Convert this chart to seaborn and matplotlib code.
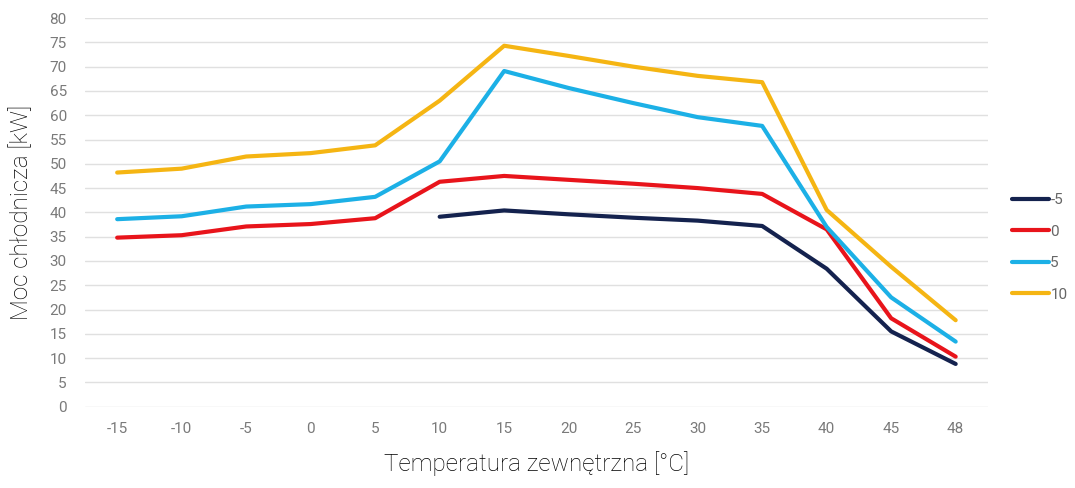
import numpy as np
import pandas as pd
import matplotlib
matplotlib.use("Agg")
import matplotlib.pyplot as plt
import seaborn as sns

# outside temperature categories (x axis, evenly spaced)
temps = ["-15", "-10", "-5", "0", "5", "10", "15", "20", "25", "30", "35", "40", "45", "48"]

# cooling power [kW] per series
s_m5 = [np.nan, np.nan, np.nan, np.nan, np.nan, 39.1, 40.4, 39.6, 38.9, 38.3, 37.2, 28.4, 15.5, 8.8]
s_0 = [34.8, 35.3, 37.1, 37.6, 38.8, 46.3, 47.5, 46.7, 45.9, 45.0, 43.8, 36.5, 18.2, 10.3]
s_5 = [38.6, 39.2, 41.2, 41.7, 43.2, 50.5, 69.1, 65.6, 62.5, 59.6, 57.8, 37.0, 22.5, 13.4]
s_10 = [48.2, 49.0, 51.5, 52.2, 53.8, 63.0, 74.3, 72.2, 70.0, 68.1, 66.8, 40.5, 28.8, 17.8]

series_names = ["-5", "0", "5", "10"]
series_vals = [s_m5, s_0, s_5, s_10]
colors = ["#14224e", "#e8141b", "#1cb0e6", "#f5b513"]

rows = []
for name, vals in zip(series_names, series_vals):
    for i, v in enumerate(vals):
        rows.append({"pos": i, "power": v, "series": name})
df = pd.DataFrame(rows).dropna()

sns.set_style("white")
plt.rcParams["font.family"] = ["Roboto", "DejaVu Sans"]

fig = plt.figure(figsize=(10.75, 4.88), dpi=100)
ax = fig.add_axes([0.079, 0.1666, 0.84, 0.7964])

sns.lineplot(data=df, x="pos", y="power", hue="series", hue_order=series_names,
             palette=colors, linewidth=3.0, ax=ax, legend=True)

ax.set_xlim(-0.5, len(temps) - 0.5)
ax.set_ylim(0, 80)
ax.set_xticks(np.arange(len(temps)))
ax.set_xticklabels(temps)
ax.set_yticks(np.arange(0, 81, 5))
ax.yaxis.grid(True, color="#e0e0e0", linewidth=1.0)
ax.set_axisbelow(True)
for sp in ax.spines.values():
    sp.set_visible(False)
ax.tick_params(axis="both", length=0, labelsize=11, labelcolor="#7a7a7a")
ax.tick_params(axis="x", pad=11)
ax.tick_params(axis="y", pad=13)

ax.set_xlabel("Temperatura zewnętrzna [°C]", fontsize=17.5, fontweight="light",
              color="#000000", labelpad=11)
ax.set_ylabel("Moc chłodnicza [kW]", fontsize=17.5, fontweight="light",
              color="#000000", labelpad=12)

ax.legend(loc="center left", bbox_to_anchor=(1.02, 0.41), frameon=False,
          fontsize=11, handlelength=2.4, handletextpad=0.1, labelspacing=1.15,
          borderaxespad=0)
for t in ax.get_legend().get_texts():
    t.set_color("#666666")

plt.savefig("out.png", dpi=100)
